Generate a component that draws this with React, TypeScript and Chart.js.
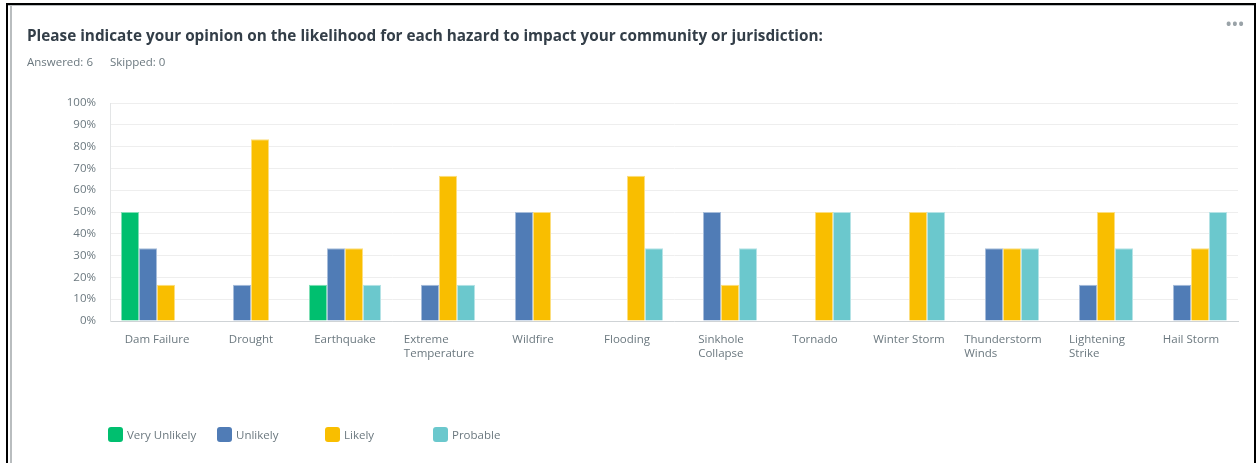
import React, { useEffect, useRef } from "react";
import { Chart, registerables } from "chart.js";

Chart.register(...registerables);

const categories: string[][] = [
  ["Dam Failure"],
  ["Drought"],
  ["Earthquake"],
  ["Extreme", "Temperature"],
  ["Wildfire"],
  ["Flooding"],
  ["Sinkhole", "Collapse"],
  ["Tornado"],
  ["Winter Storm"],
  ["Thunderstorm", "Winds"],
  ["Lightening", "Strike"],
  ["Hail Storm"],
];

const veryUnlikely = [50, 0, 16.67, 0, 0, 0, 0, 0, 0, 0, 0, 0];
const unlikely = [33.33, 16.67, 33.33, 16.67, 50, 0, 50, 0, 0, 33.33, 16.67, 16.67];
const likely = [16.67, 83.33, 33.33, 66.67, 50, 66.67, 16.67, 50, 50, 33.33, 50, 33.33];
const probable = [0, 0, 16.67, 16.67, 0, 33.33, 33.33, 50, 50, 33.33, 33.33, 50];

const seriesNames = ["Very Unlikely", "Unlikely", "Likely", "Probable"];
const seriesColors = ["#00bf6f", "#507cb6", "#f9be00", "#6bc8cd"];
const seriesBorders = ["#7fdfb6", "#a7bdda", "#fcde7f", "#b5e3e6"];

const yTicks = [0, 10, 20, 30, 40, 50, 60, 70, 80, 90, 100];

const TEXT = "#6b787f";
const FONT = "'Open Sans', 'Noto Sans', sans-serif";

export default function App() {
  const ref = useRef<HTMLCanvasElement | null>(null);

  useEffect(() => {
    if (!ref.current) return;
    const labelPlugin = {
      id: "leftLines",
      afterDraw(chart: any) {
        const ctx = chart.ctx;
        const xs = chart.scales.x;
        const top = chart.chartArea.bottom;
        ctx.save();
        ctx.font = `11.5px ${FONT}`;
        ctx.fillStyle = TEXT;
        ctx.textBaseline = "middle";
        ctx.textAlign = "left";
        categories.forEach((lines, i) => {
          const cx = xs.getPixelForTick(i);
          const w = Math.max(...lines.map((l) => ctx.measureText(l).width));
          const left = cx - w / 2;
          lines.forEach((l, k) => {
            ctx.fillText(l, left, top + 19 + k * 13.3);
          });
        });
        ctx.restore();
      },
    };
    const data = [veryUnlikely, unlikely, likely, probable];
    const chart = new Chart(ref.current, {
      type: "bar",
      data: {
        labels: categories.map((c) => c.join(" ")),
        datasets: data.map((d, i) => ({
          label: seriesNames[i],
          data: d,
          backgroundColor: seriesColors[i],
          borderColor: seriesBorders[i],
          borderWidth: 1,
          categoryPercentage: 0.766,
          barPercentage: 1,
        })),
      },
      options: {
        animation: false,
        responsive: false,
        maintainAspectRatio: false,
        layout: { padding: { left: 40, top: 103, right: 19, bottom: 102 } },
        plugins: { legend: { display: false }, tooltip: { enabled: false } },
        scales: {
          x: {
            ticks: { display: false },
            grid: { display: false },
            border: { display: true, color: "#cfd3d6", width: 1 },
            afterFit(scale: any) {
              scale.height = 40;
            },
          },
          y: {
            min: 0,
            max: 100,
            afterBuildTicks(scale: any) {
              scale.ticks = yTicks.map((v) => ({ value: v }));
            },
            ticks: {
              color: TEXT,
              font: { family: FONT, size: 11.5 },
              padding: 14,
              callback: (v: any) => `${v}%`,
            },
            grid: { color: "#eeeeee", drawTicks: false },
            border: { display: true, color: "#e3e5e6", width: 1 },
            afterFit(scale: any) {
              scale.width = 70;
            },
          },
        },
      },
      plugins: [labelPlugin],
    });
    return () => chart.destroy();
  }, []);

  const legendLeft = [108, 217, 325, 433];

  return (
    <div
      style={{
        position: "fixed",
        left: 0,
        top: 0,
        width: 1257,
        height: 463,
        background: "#ffffff",
        overflow: "hidden",
        fontFamily: FONT,
      }}
    >
      <canvas
        ref={ref}
        width={1257}
        height={463}
        style={{ position: "absolute", left: 0, top: 0, width: 1257, height: 463 }}
      />
      {/* frame */}
      <div style={{ position: "absolute", left: 6, top: 3, width: 1250, height: 2, background: "#000" }} />
      <div style={{ position: "absolute", left: 6, top: 3, width: 2, height: 460, background: "#000" }} />
      <div style={{ position: "absolute", left: 1254, top: 3, width: 2, height: 460, background: "#000" }} />
      <div style={{ position: "absolute", left: 8, top: 5, width: 1246, height: 1, background: "#b9bdbf" }} />
      <div style={{ position: "absolute", left: 10, top: 5, width: 2, height: 458, background: "#b9bdbf" }} />

      <div
        style={{
          position: "absolute",
          left: 27,
          top: 25,
          fontSize: 15.3,
          fontWeight: 700,
          color: "#333e48",
          whiteSpace: "nowrap",
          lineHeight: "20px",
        }}
      >
        Please indicate your opinion on the likelihood for each hazard to impact your community or jurisdiction:
      </div>
      <div
        style={{
          position: "absolute",
          left: 27,
          top: 54,
          fontSize: 11.5,
          color: TEXT,
          whiteSpace: "nowrap",
          lineHeight: "16px",
        }}
      >
        <span>Answered: 6</span>
        <span style={{ marginLeft: 17 }}>Skipped: 0</span>
      </div>
      <div
        style={{
          position: "absolute",
          left: 1226,
          top: 17,
          fontSize: 14,
          fontWeight: 700,
          color: "#9aa3a8",
          letterSpacing: 1,
          lineHeight: "14px",
        }}
      >
        •••
      </div>

      {seriesNames.map((n, i) => (
        <div
          key={n}
          style={{
            position: "absolute",
            left: legendLeft[i],
            top: 427,
            height: 15,
            display: "flex",
            alignItems: "center",
            whiteSpace: "nowrap",
          }}
        >
          <span
            style={{
              display: "inline-block",
              width: 15,
              height: 15,
              borderRadius: 3,
              background: seriesColors[i],
              marginRight: 4,
            }}
          />
          <span style={{ fontSize: 11.5, color: TEXT, lineHeight: "15px" }}>{n}</span>
        </div>
      ))}
    </div>
  );
}
